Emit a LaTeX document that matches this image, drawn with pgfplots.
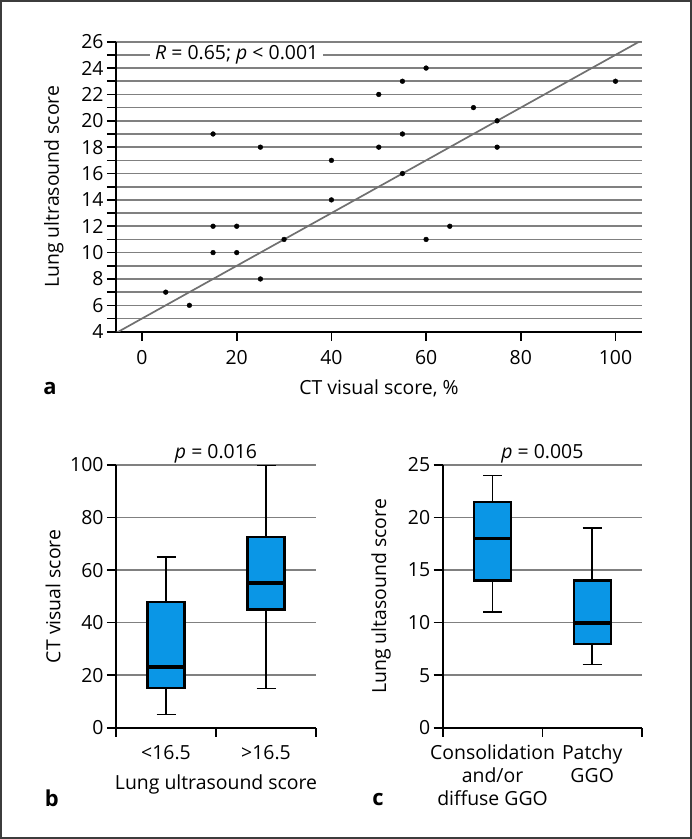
\documentclass[border=0pt]{standalone}
\usepackage{fontspec}
\setmainfont{Open Sans}
\usepackage{pgfplots}
\pgfplotsset{compat=1.18}
\definecolor{boxblue}{RGB}{10,150,230}
\definecolor{gridgray}{RGB}{128,128,128}
\definecolor{framegray}{RGB}{60,60,60}
\newcommand{\lbl}{\fontsize{19.5}{23}\selectfont}

\pgfplotsset{
  panel/.style={
    scale only axis, anchor=south west,
    axis x line*=bottom, axis y line*=left,
    axis line style={black, line width=1.6bp},
    tick align=outside, major tick length=9bp, minor tick length=9bp,
    tick style={black, line width=1.6bp},
    ymajorgrids, grid style={gridgray, line width=1.6bp},
    /pgf/number format/assume math mode=true,
    tick label style={font=\lbl},
    label style={font=\lbl},
    title style={font=\lbl},
  },
  whisk/.style={black, line width=1.4bp},
  box/.style={draw=black, fill=boxblue, line width=2.2bp},
  med/.style={black, line width=3.8bp},
}

\begin{document}
\begin{tikzpicture}
\useasboundingbox (0,0) rectangle (692bp,-839bp);
\draw[framegray, line width=2bp] (1bp,-1bp) rectangle (691bp,-838bp);

% panel a
\begin{axis}[panel,
  at={(116bp,-331.7bp)}, width=526bp, height=290bp,
  xmin=-5.5, xmax=105.6, ymin=4, ymax=26,
  xtick={0,20,...,100},
  ytick={4,6,...,26}, minor ytick={5,7,...,25}, yminorgrids,
  minor grid style={gridgray, line width=1.6bp},
  xticklabel style={yshift=-6bp},
  xlabel={CT visual score, \%},
  xlabel style={at={(axis description cs:0.5,-0.194)}, anchor=center},
  ylabel={Lung ultrasound score},
  ylabel style={at={(axis description cs:-0.118,0.5)}, anchor=center},
]
\addplot[color={rgb,255:red,112;green,112;blue,112}, line width=1.7bp] coordinates {(-5.5,3.9) (105.6,26.12)};
\addplot[only marks, mark=*, mark size=2.4bp, black] coordinates {
(5,7) (10,6) (15,19) (15,12) (15,10) (20,12) (20,10) (25,18) (25,8)
(30,11) (40,17) (40,14) (50,22) (50,18) (55,23) (55,19) (55,16)
(60,24) (60,11) (65,12) (70,21) (75,20) (75,18) (100,23)};
\node[fill=white, inner xsep=5bp, inner ysep=1bp, font=\lbl] at (axis cs:20,25) {\textit{R} = 0.65; \textit{p} < 0.001};
\end{axis}

% panel b
\begin{axis}[panel,
  at={(116bp,-727.7bp)}, width=200bp, height=262.7bp,
  xmin=0.5, xmax=2.5, ymin=0, ymax=100,
  ytick={0,20,...,100},
  xtick={0.5,1.5,2.5}, xticklabels={,,},
  extra x ticks={1,2}, extra x tick labels={<16.5,>16.5},
  extra x tick style={major tick length=0pt},
  xticklabel style={yshift=-14bp},
  title={\textit{p} = 0.016},
  title style={at={(axis description cs:0.5,1.0647)}, anchor=center, yshift=-12bp},
  xlabel={Lung ultrasound score},
  xlabel style={at={(axis description cs:0.5,-0.2094)}, anchor=center, yshift=-2bp},
  ylabel={CT visual score},
  ylabel style={at={(axis description cs:-0.315,0.5)}, anchor=center},
]
% <16.5: whiskers 5/65, box 15-48, median 23
\addplot[whisk] coordinates {(1,5) (1,15)};
\addplot[whisk] coordinates {(1,48) (1,65)};
\addplot[whisk] coordinates {(0.905,5) (1.095,5)};
\addplot[whisk] coordinates {(0.905,65) (1.095,65)};
\addplot[box] coordinates {(0.815,15) (1.185,15) (1.185,48) (0.815,48)} --cycle;
\addplot[med] coordinates {(0.815,23) (1.185,23)};
% >16.5: whiskers 15/100, box 45-72.5, median 55
\addplot[whisk] coordinates {(2,15) (2,45)};
\addplot[whisk] coordinates {(2,72.5) (2,100)};
\addplot[whisk] coordinates {(1.905,15) (2.095,15)};
\addplot[whisk] coordinates {(1.905,100) (2.095,100)};
\addplot[box] coordinates {(1.815,45) (2.185,45) (2.185,72.5) (1.815,72.5)} --cycle;
\addplot[med] coordinates {(1.815,55) (2.185,55)};
\end{axis}

% panel c
\begin{axis}[panel,
  at={(442.7bp,-727.7bp)}, width=199.3bp, height=262.7bp,
  xmin=0.5, xmax=2.5, ymin=0, ymax=25,
  ytick={0,5,...,25},
  xtick={0.5,1.5,2.5}, xticklabels={,,},
  extra x ticks={1,2}, extra x tick labels={Consolidation\\and/or\\diffuse GGO, Patchy\\GGO},
  extra x tick style={major tick length=0pt},
  xticklabel style={yshift=-14bp, align=center},
  title={\textit{p} = 0.005},
  title style={at={(axis description cs:0.5,1.0647)}, anchor=center, yshift=-12bp},
  ylabel={Lung ultasound score},
  ylabel style={at={(axis description cs:-0.3096,0.5)}, anchor=center},
]
% consolidation: whiskers 11/24, box 14-21.5, median 18
\addplot[whisk] coordinates {(1,11) (1,14)};
\addplot[whisk] coordinates {(1,21.5) (1,24)};
\addplot[whisk] coordinates {(0.905,11) (1.095,11)};
\addplot[whisk] coordinates {(0.905,24) (1.095,24)};
\addplot[box] coordinates {(0.815,14) (1.185,14) (1.185,21.5) (0.815,21.5)} --cycle;
\addplot[med] coordinates {(0.815,18) (1.185,18)};
% patchy: whiskers 6/19, box 8-14, median 10
\addplot[whisk] coordinates {(2,6) (2,8)};
\addplot[whisk] coordinates {(2,14) (2,19)};
\addplot[whisk] coordinates {(1.905,6) (2.095,6)};
\addplot[whisk] coordinates {(1.905,19) (2.095,19)};
\addplot[box] coordinates {(1.815,8) (2.185,8) (2.185,14) (1.815,14)} --cycle;
\addplot[med] coordinates {(1.815,10) (2.185,10)};
\end{axis}

\node[font=\fontsize{22}{26}\selectfont\bfseries] at (50bp,-388bp) {a};
\node[font=\fontsize{22}{26}\selectfont\bfseries] at (51.7bp,-798bp) {b};
\node[font=\fontsize{22}{26}\selectfont\bfseries] at (378bp,-800bp) {c};
\end{tikzpicture}
\end{document}
